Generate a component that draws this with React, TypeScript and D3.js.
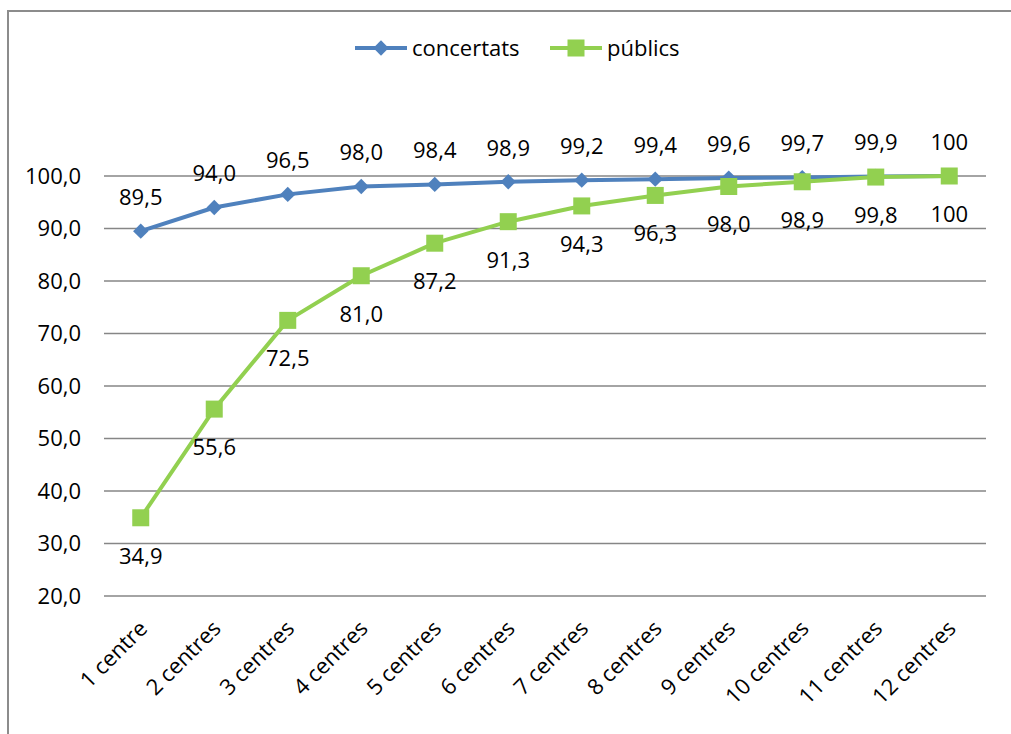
import React, { useEffect, useRef } from "react";
import * as d3 from "d3";

const categories = [
  "1 centre", "2 centres", "3 centres", "4 centres", "5 centres", "6 centres",
  "7 centres", "8 centres", "9 centres", "10 centres", "11 centres", "12 centres",
];
const concertats = [89.5, 94.0, 96.5, 98.0, 98.4, 98.9, 99.2, 99.4, 99.6, 99.7, 99.9, 100];
const publics = [34.9, 55.6, 72.5, 81.0, 87.2, 91.3, 94.3, 96.3, 98.0, 98.9, 99.8, 100];
const yTicks = [20, 30, 40, 50, 60, 70, 80, 90, 100];

const W = 1011;
const H = 734;
const FONT = "'Open Sans', 'Noto Sans', sans-serif";
const BLUE = "#4F81BD";
const GREEN = "#92D050";
const GRID = "#868686";

const fmtTick = (v: number) => v.toFixed(1).replace(".", ",");
const fmtLabel = (v: number) => (v === 100 ? "100" : v.toFixed(1).replace(".", ","));

export default function App() {
  const ref = useRef<SVGSVGElement | null>(null);

  useEffect(() => {
    const svg = d3.select(ref.current);
    svg.selectAll("*").remove();

    const left = 104, right = 986, top = 176, bottom = 596;
    const x = d3.scalePoint<string>().domain(categories).range([left, right]).padding(0.5);
    const y = d3.scaleLinear().domain([20, 100]).range([bottom, top]);

    // chart frame
    svg.append("rect")
      .attr("x", 8).attr("y", 11).attr("width", W + 20).attr("height", H + 20)
      .attr("fill", "white").attr("stroke", "#8c8c8c").attr("stroke-width", 2);

    // gridlines + y labels
    const g = svg.append("g");
    yTicks.forEach((t) => {
      g.append("line")
        .attr("x1", left).attr("x2", right)
        .attr("y1", y(t)).attr("y2", y(t))
        .attr("stroke", GRID).attr("stroke-width", 1.5);
      g.append("text")
        .attr("x", 81).attr("y", y(t))
        .attr("dy", "0.36em")
        .attr("text-anchor", "end")
        .attr("font-family", FONT).attr("font-size", 22)
        .attr("fill", "#000")
        .text(fmtTick(t));
    });

    // category labels, rotated
    categories.forEach((c) => {
      const cx = x(c)!;
      g.append("text")
        .attr("transform", `translate(${cx - 3},${619}) rotate(-45)`)
        .attr("text-anchor", "end")
        .attr("dy", "0.7em")
        .attr("font-family", FONT).attr("font-size", 22)
        .attr("fill", "#000")
        .text(c);
    });

    const line = d3.line<number>()
      .x((_, i) => x(categories[i])!)
      .y((d) => y(d));

    // concertats
    svg.append("path").datum(concertats)
      .attr("d", line).attr("fill", "none")
      .attr("stroke", BLUE).attr("stroke-width", 4).attr("stroke-linejoin", "round");
    const diamond = d3.symbol().type(d3.symbolDiamond2).size(150);
    svg.selectAll(".dia").data(concertats).enter().append("path")
      .attr("d", diamond)
      .attr("transform", (d, i) => `translate(${x(categories[i])},${y(d)})`)
      .attr("fill", BLUE);

    // públics
    svg.append("path").datum(publics)
      .attr("d", line).attr("fill", "none")
      .attr("stroke", GREEN).attr("stroke-width", 4).attr("stroke-linejoin", "round");
    svg.selectAll(".sq").data(publics).enter().append("rect")
      .attr("x", (_, i) => x(categories[i])! - 8.5)
      .attr("y", (d) => y(d) - 8.5)
      .attr("width", 17).attr("height", 17)
      .attr("fill", GREEN);

    // value labels
    concertats.forEach((v, i) => {
      svg.append("text")
        .attr("x", x(categories[i])!).attr("y", y(v) - 34)
        .attr("dy", "0.36em")
        .attr("text-anchor", "middle")
        .attr("font-family", FONT).attr("font-size", 22)
        .text(fmtLabel(v));
    });
    publics.forEach((v, i) => {
      svg.append("text")
        .attr("x", x(categories[i])!).attr("y", y(v) + 38)
        .attr("dy", "0.36em")
        .attr("text-anchor", "middle")
        .attr("font-family", FONT).attr("font-size", 22)
        .text(fmtLabel(v));
    });

    // legend
    const lg = svg.append("g");
    const items = [
      { name: "concertats", color: BLUE, x0: 355, kind: "d" },
      { name: "públics", color: GREEN, x0: 550, kind: "s" },
    ];
    items.forEach((it) => {
      const ly = 48;
      lg.append("line")
        .attr("x1", it.x0).attr("x2", it.x0 + 52)
        .attr("y1", ly).attr("y2", ly)
        .attr("stroke", it.color).attr("stroke-width", 4);
      if (it.kind === "d") {
        lg.append("path").attr("d", diamond)
          .attr("transform", `translate(${it.x0 + 26},${ly})`)
          .attr("fill", it.color);
      } else {
        lg.append("rect")
          .attr("x", it.x0 + 26 - 8.5).attr("y", ly - 8.5)
          .attr("width", 17).attr("height", 17)
          .attr("fill", it.color);
      }
      lg.append("text")
        .attr("x", it.x0 + 57).attr("y", ly)
        .attr("dy", "0.36em")
        .attr("font-family", FONT).attr("font-size", 22)
        .text(it.name);
    });
  }, []);

  return (
    <svg
      ref={ref}
      width={W}
      height={H}
      style={{ position: "absolute", left: 0, top: 0, background: "white" }}
    />
  );
}
